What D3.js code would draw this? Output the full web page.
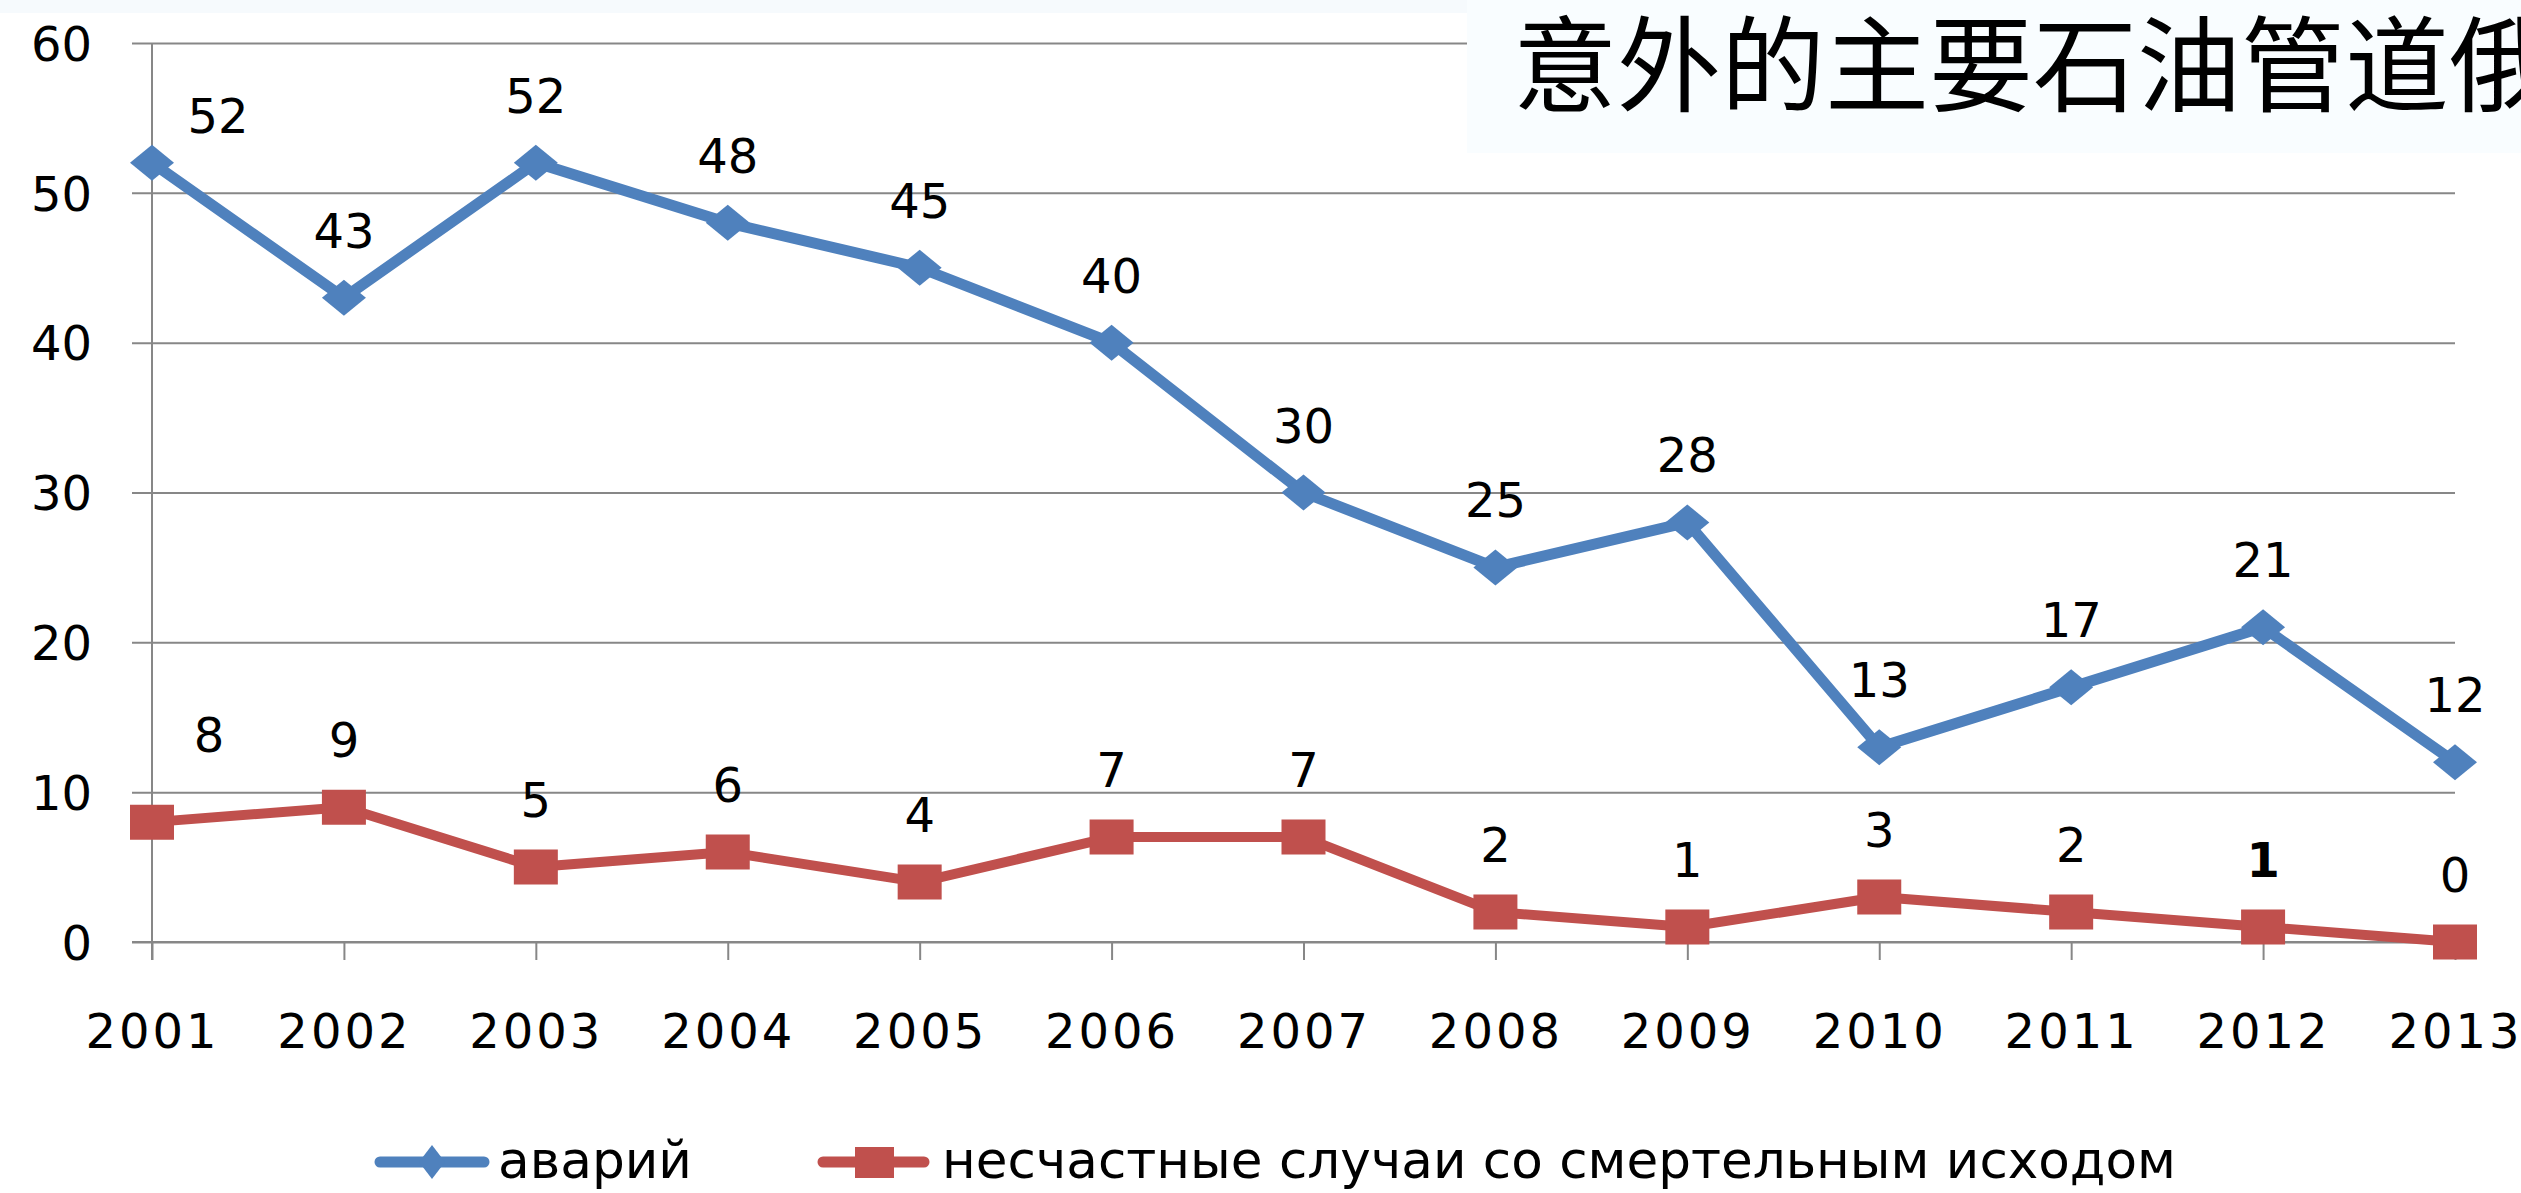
<!DOCTYPE html>
<html><head><meta charset="utf-8">
<script src="https://cdn.jsdelivr.net/npm/d3@7"></script>
<style>body{margin:0;background:#fff;overflow:hidden}svg{display:block}</style>
</head><body><svg id="c" width="2521" height="1193"></svg>
<script>
// ---- data ----
const years = ["2001","2002","2003","2004","2005","2006","2007","2008","2009","2010","2011","2012","2013"];
const accidents = [52,43,52,48,45,40,30,25,28,13,17,21,12];
const fatalities = [8,9,5,6,4,7,7,2,1,3,2,1,0];
const yTicks = [0,10,20,30,40,50,60];
const seriesNames = ["аварий","несчастные случаи со смертельным исходом"];
const titleText = "意外的主要石油管道俄罗斯事故";
const emphasizedLabels = [{series:1, index:11}];

// ---- layout ----
const W = 2521, H = 1193;
const colors = ["#4F81BD","#C0504D"];
const gridColor = "#878787";
const font = "'DejaVu Sans', sans-serif";

const svg = d3.select("#c");
svg.append("rect").attr("width",W).attr("height",H).attr("fill","#fff");
svg.append("rect").attr("width",W).attr("height",13).attr("fill","#f6fafd");

const x = d3.scalePoint().domain(years).range([152, 2455]);
const y = d3.scaleLinear().domain([0,60]).range([942, 43]);

// gridlines
const yAxis = d3.axisLeft(y).tickValues(yTicks).tickSize(-(2455-132)).tickPadding(0).tickFormat(d3.format("d"));
const gy = svg.append("g").attr("transform","translate(132,0)").call(yAxis);
gy.select(".domain").remove();
gy.selectAll(".tick line").attr("stroke",gridColor).attr("stroke-width",2).attr("x1",0).attr("x2",2455-132);
gy.selectAll(".tick text").attr("x",-40).attr("dy","0.36em").attr("fill","#000")
  .style("font-family",font).style("font-size","48px").attr("text-anchor","end");

// y axis line
svg.append("line").attr("x1",152).attr("x2",152).attr("y1",43).attr("y2",960)
  .attr("stroke",gridColor).attr("stroke-width",2);

// x axis
const xAxis = d3.axisBottom(x).tickSize(18).tickPadding(0);
const gx = svg.append("g").attr("transform","translate(0,942)").call(xAxis);
gx.select(".domain").attr("stroke",gridColor).attr("stroke-width",2).attr("d","M132,0H2455");
gx.selectAll(".tick line").attr("stroke",gridColor).attr("stroke-width",2);
gx.selectAll(".tick text").attr("y",106).attr("dy",0).attr("fill","#000")
  .style("font-family",font).style("font-size","48px").style("letter-spacing","3px");

// title box
svg.append("rect").attr("x",1467).attr("y",0).attr("width",W-1467).attr("height",153).attr("fill","#f9fdff");
svg.append("text").attr("x",1513).attr("y",104).text(titleText)
  .style("font-family","'Noto Sans CJK SC', sans-serif").style("font-size","104px").attr("fill","#000");

// series
const series = [accidents, fatalities];
const line = d3.line().x((d,i)=>x(years[i])).y(d=>y(d));
const diamond = (w,h)=>`M0,${-h/2}L${w/2},0L0,${h/2}L${-w/2},0Z`;

series.forEach((vals,s)=>{
  const g = svg.append("g");
  g.append("path").datum(vals).attr("d",line).attr("fill","none")
    .attr("stroke",colors[s]).attr("stroke-width",s===0?11:10).attr("stroke-linejoin","round");
  g.selectAll(".m").data(vals).enter().append("path")
    .attr("transform",(d,i)=>`translate(${x(years[i])},${y(d)})`)
    .attr("d", s===0 ? diamond(44,36) : "M-22,-17.5H22V17.5H-22Z")
    .attr("fill",colors[s]);
});

// data labels
series.forEach((vals,s)=>{
  svg.append("g").selectAll("text").data(vals).enter().append("text")
    .attr("x",(d,i)=>x(years[i]) + (i===0 ? (s===0?66:57) : 0))
    .attr("y",(d,i)=>y(d) - (i===0 ? (s===0?30:70) : 50))
    .attr("text-anchor","middle")
    .style("font-family",font).style("font-size","48px")
    .style("font-weight",(d,i)=>emphasizedLabels.some(e=>e.series===s&&e.index===i)?"bold":"normal")
    .attr("fill","#000").text(d=>d);
});

// legend
const lg = svg.append("g");
lg.append("line").attr("x1",380).attr("x2",484).attr("y1",1162).attr("y2",1162)
  .attr("stroke",colors[0]).attr("stroke-width",11).attr("stroke-linecap","round");
lg.append("path").attr("transform","translate(432,1162)").attr("d",diamond(26,34)).attr("fill",colors[0]);
lg.append("text").attr("x",498).attr("y",1178).text(seriesNames[0])
  .style("font-family",font).style("font-size","51px").attr("fill","#000")
  .attr("textLength",194).attr("lengthAdjust","spacingAndGlyphs");
lg.append("line").attr("x1",823).attr("x2",924).attr("y1",1162).attr("y2",1162)
  .attr("stroke",colors[1]).attr("stroke-width",11).attr("stroke-linecap","round");
lg.append("path").attr("transform","translate(874.5,1162.5)").attr("d","M-19.5,-15.5H19.5V15.5H-19.5Z").attr("fill",colors[1]);
lg.append("text").attr("x",942).attr("y",1178).text(seriesNames[1])
  .style("font-family",font).style("font-size","51px").attr("fill","#000")
  .attr("textLength",1234).attr("lengthAdjust","spacingAndGlyphs");
</script></body></html>
